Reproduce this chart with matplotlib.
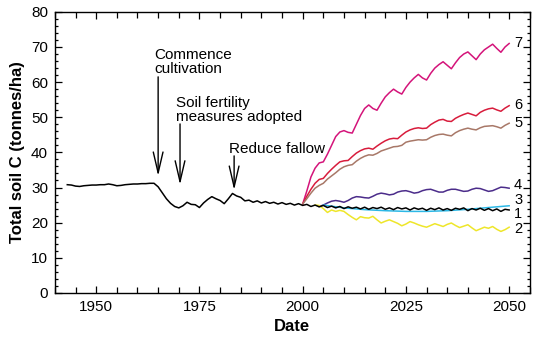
import numpy as np
import matplotlib
matplotlib.use("Agg")
import matplotlib.pyplot as plt
from matplotlib.ticker import MultipleLocator

plt.rcParams["font.family"] = ["Liberation Sans", "DejaVu Sans"]

# Historical soil carbon (1943-2050, annual) - baseline run
base_years = np.arange(1943, 2051)
base_c = [
    30.8, 30.7, 30.4, 30.3, 30.5, 30.6, 30.7, 30.7, 30.8, 30.8,
    31.0, 30.8, 30.5, 30.6, 30.8, 30.9, 31.0, 31.0, 31.1, 31.1,
    31.2, 31.2, 30.2, 28.5, 26.8, 25.5, 24.6, 24.2, 24.8, 25.8,
    25.2, 25.1, 24.3, 25.6, 26.6, 27.4, 26.8, 26.3, 25.4, 26.8,
    28.3, 27.6, 27.2, 26.2, 26.4, 25.8, 26.2, 25.6, 26.0, 25.5,
    25.8, 25.3, 25.7, 25.2, 25.5, 25.0, 25.4, 24.9,
    25.2, 24.6, 25.0, 24.5, 24.9, 24.3, 24.7, 24.2, 24.6, 24.0,
    24.5, 24.1, 24.4, 23.9, 24.4, 23.8, 24.3, 24.0, 24.4, 23.8,
    24.2, 23.7, 24.3, 23.9, 24.2, 23.6, 24.2, 23.8, 24.1, 23.5,
    24.1, 23.7, 24.2, 23.6, 24.0, 23.5, 24.1, 23.8, 24.2, 23.4,
    24.0, 23.6, 24.1, 23.5, 24.0, 23.4, 23.9, 23.2, 23.8, 23.6,
]

# Scenario runs from 2000
scen_years = np.arange(2000, 2051)
s7 = [
    25.3, 29.0, 33.0, 35.5, 37.0, 37.3, 39.5, 42.0, 44.5, 45.8,
    46.2, 45.7, 45.5, 48.0, 50.5, 52.5, 53.5, 52.5, 52.0, 54.0,
    55.8, 57.0, 58.0, 57.2, 56.6, 58.5, 60.0, 61.2, 62.2, 61.2,
    60.6, 62.5, 64.0, 65.0, 65.8, 64.8, 63.8, 65.5, 67.0, 68.0,
    68.6, 67.5, 66.4, 68.0, 69.2, 70.0, 70.8, 69.6, 68.5, 70.0,
    71.0,
]
s6 = [
    25.3, 27.5, 29.5, 31.2, 32.3, 32.6, 34.0, 35.2, 36.3, 37.3,
    37.6, 37.7, 38.8, 39.8, 40.5, 41.0, 41.2, 40.9, 41.8, 42.6,
    43.3, 43.8, 44.0, 43.9, 44.9, 45.8, 46.4, 46.8, 47.0, 46.8,
    46.9, 47.9, 48.6, 49.2, 49.4, 48.9, 48.8, 49.7, 50.3, 50.8,
    51.2, 50.8, 50.4, 51.4, 52.0, 52.4, 52.6, 52.1, 51.7, 52.6,
    53.3,
]
s5 = [
    25.3, 26.8, 28.4, 29.8, 30.6, 31.2, 32.4, 33.3, 34.2, 35.2,
    35.9, 36.3, 36.5, 37.5, 38.3, 38.9, 39.3, 39.2, 39.7, 40.4,
    40.8, 41.2, 41.6, 41.7, 42.0, 42.9, 43.2, 43.4, 43.6, 43.5,
    43.6, 44.3, 44.8, 45.1, 45.2, 44.9, 44.7, 45.6, 46.2, 46.6,
    46.9, 46.6, 46.4, 47.0, 47.4, 47.5, 47.6, 47.3, 46.9, 47.7,
    48.3,
]

s4_years = np.arange(2004, 2051)
s4 = [
    24.6, 25.0, 25.6, 26.1, 26.3, 26.1, 25.8, 26.3, 27.0, 27.4,
    27.3, 27.1, 27.0, 27.5, 28.1, 28.4, 28.2, 27.9, 28.1, 28.7,
    29.0, 29.1, 28.8, 28.4, 28.6, 29.1, 29.4, 29.5, 29.1, 28.7,
    28.7, 29.2, 29.5, 29.5, 29.2, 28.9, 29.0, 29.5, 29.8, 29.7,
    29.3, 28.9, 29.1, 29.6, 30.1, 30.0, 29.8,
]

s3_years = [2005, 2010, 2015, 2020, 2025, 2030, 2035, 2040, 2045, 2050]
s3 = [25.0, 24.2, 23.7, 23.4, 23.2, 23.2, 23.4, 23.8, 24.3, 24.8]

s2_years = np.arange(2003, 2051)
s2 = [
    25.0, 24.9, 24.0, 22.9, 23.6, 23.2, 23.5, 23.2, 22.3, 21.5,
    20.8, 21.7, 21.4, 21.3, 21.8, 20.8, 19.9, 20.4, 20.8, 20.3,
    19.8, 19.1, 19.6, 20.3, 19.9, 19.4, 19.0, 18.7, 19.2, 19.7,
    19.3, 18.9, 19.5, 19.9, 19.2, 18.6, 19.0, 19.4, 18.5, 17.7,
    18.2, 18.7, 18.4, 18.9, 18.1, 17.5, 18.0, 18.7,
]

fig = plt.figure(figsize=(5.33, 3.39), dpi=100)
ax = fig.add_axes([0.103, 0.136, 0.891, 0.829])

lw = 1.1
ax.plot(scen_years, s7, color="#d4147a", lw=lw)
ax.plot(scen_years, s6, color="#d81c3c", lw=lw)
ax.plot(scen_years, s5, color="#a87868", lw=lw)
ax.plot(s4_years, s4, color="#4b2c8a", lw=lw)
ax.plot(s2_years, s2, color="#eee62a", lw=lw)
ax.plot(s3_years, s3, color="#2cb8e6", lw=lw)
ax.plot(base_years, base_c, color="black", lw=lw)

# run numbers at the line ends
end_labels = [("7", 71.0), ("6", 53.6), ("5", 48.5), ("4", 30.7),
              ("3", 26.4), ("1", 22.6), ("2", 18.2)]
for lab, yv in end_labels:
    ax.text(2051.2, yv, lab, fontsize=10.5, ha="left", va="center")

# management events
arrow = dict(arrowstyle="->, head_length=1.5, head_width=0.35",
             color="black", lw=1.0, shrinkA=0, shrinkB=0)
ax.annotate("", xy=(1965, 33.3), xytext=(1965, 61.5), arrowprops=arrow)
ax.annotate("", xy=(1970.3, 30.8), xytext=(1970.3, 48.1), arrowprops=arrow)
ax.annotate("", xy=(1983.4, 29.3), xytext=(1983.4, 39.0), arrowprops=arrow)
ax.text(1964.0, 69.6, "Commence\ncultivation", fontsize=11, va="top",
        linespacing=0.95)
ax.text(1969.4, 56.0, "Soil fertility\nmeasures adopted", fontsize=11,
        va="top", linespacing=0.95)
ax.text(1982.2, 41.0, "Reduce fallow", fontsize=11, va="center")

ax.set_xlim(1940, 2055)
ax.set_ylim(0, 80)
ax.xaxis.set_major_locator(MultipleLocator(25))
ax.xaxis.set_minor_locator(MultipleLocator(5))
ax.yaxis.set_major_locator(MultipleLocator(10))
ax.yaxis.set_minor_locator(MultipleLocator(2))
ax.tick_params(which="both", direction="in", top=True, right=True,
               labelsize=11, width=0.9)
ax.tick_params(which="major", length=5, pad=5)
ax.tick_params(which="minor", length=2.5)
ax.tick_params(axis="x", which="minor", length=4.5)
for s in ax.spines.values():
    s.set_linewidth(1.0)

ax.set_xlabel("Date", fontsize=12, fontweight="bold", labelpad=4)
ax.set_ylabel("Total soil C (tonnes/ha)", fontsize=12, fontweight="bold",
              labelpad=4)

fig.savefig("out.png", dpi=100)
